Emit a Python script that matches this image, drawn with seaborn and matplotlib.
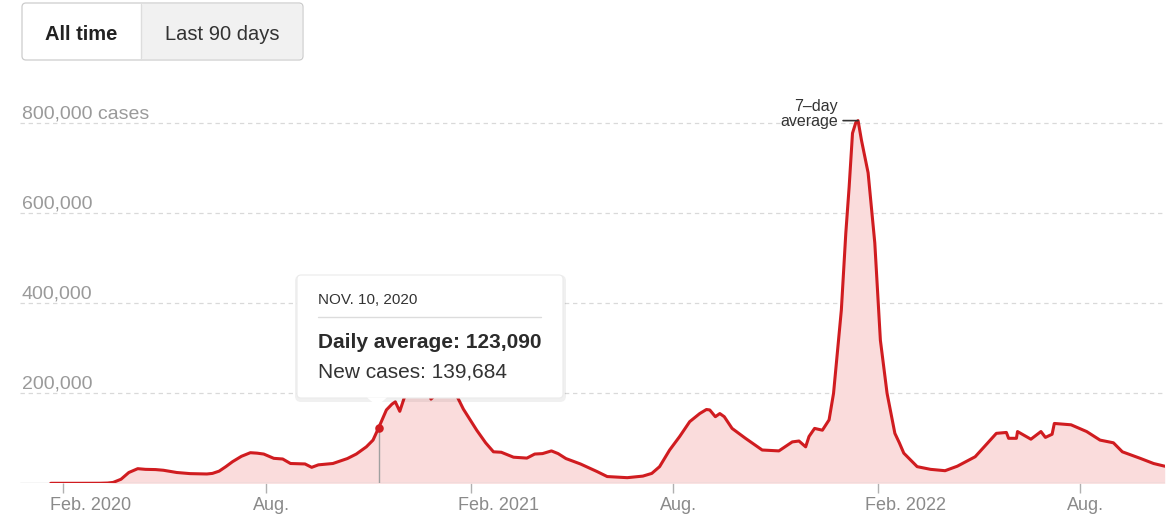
import pandas as pd
import matplotlib
matplotlib.use("Agg")
import matplotlib.pyplot as plt
import matplotlib.transforms as mtransforms
from matplotlib.patches import FancyBboxPatch, Polygon
from matplotlib.lines import Line2D
import seaborn as sns

# Data: 7-day average of new cases
dates = [
    "2020-01-21", "2020-02-15", "2020-03-05", "2020-03-12", "2020-03-17", "2020-03-24",
    "2020-03-31", "2020-04-08", "2020-04-15", "2020-04-24", "2020-05-01", "2020-05-13",
    "2020-05-25", "2020-06-09", "2020-06-14", "2020-06-20", "2020-06-26", "2020-07-02",
    "2020-07-10", "2020-07-18", "2020-07-24", "2020-07-30", "2020-08-08", "2020-08-16",
    "2020-08-23", "2020-09-05", "2020-09-11", "2020-09-17", "2020-09-30", "2020-10-13",
    "2020-10-21", "2020-10-30", "2020-11-05", "2020-11-10", "2020-11-17", "2020-11-22",
    "2020-11-25", "2020-11-29", "2020-12-03", "2020-12-10", "2020-12-17", "2020-12-23",
    "2020-12-27", "2021-01-01", "2021-01-08", "2021-01-12", "2021-01-16", "2021-01-20",
    "2021-01-25", "2021-02-06", "2021-02-14", "2021-02-21", "2021-02-28", "2021-03-11",
    "2021-03-23", "2021-03-30", "2021-04-06", "2021-04-14", "2021-04-20", "2021-04-27",
    "2021-05-10", "2021-05-25", "2021-06-03", "2021-06-21", "2021-07-05", "2021-07-13",
    "2021-07-20", "2021-07-29", "2021-08-07", "2021-08-16", "2021-08-25", "2021-08-31",
    "2021-09-03", "2021-09-08", "2021-09-12", "2021-09-16", "2021-09-23", "2021-10-05",
    "2021-10-20", "2021-11-04", "2021-11-16", "2021-11-22", "2021-11-28", "2021-12-01",
    "2021-12-06", "2021-12-13", "2021-12-19", "2021-12-23", "2021-12-30", "2022-01-03",
    "2022-01-06", "2022-01-09", "2022-01-12", "2022-01-14", "2022-01-17", "2022-01-23",
    "2022-01-29", "2022-02-03", "2022-02-09", "2022-02-16", "2022-02-20", "2022-02-24",
    "2022-03-02", "2022-03-08", "2022-03-20", "2022-04-02", "2022-04-13", "2022-04-29",
    "2022-05-10", "2022-05-18", "2022-05-27", "2022-05-29", "2022-06-05", "2022-06-06",
    "2022-06-18", "2022-06-27", "2022-07-01", "2022-07-07", "2022-07-09", "2022-07-24",
    "2022-08-07", "2022-08-19", "2022-08-31", "2022-09-08", "2022-09-24", "2022-10-06",
    "2022-10-16",
]
avg_cases = [
    0, 0, 100, 600, 2000, 9000,
    24000, 32500, 31000, 30500, 29000, 24000,
    21500, 20700, 22000, 27000, 37000, 48000,
    60000, 68000, 67000, 65000, 55500, 54000,
    44000, 43000, 35500, 41000, 44000, 55000,
    65000, 81000, 96000, 123090, 163000, 176000,
    181000, 160000, 190000, 215000, 240000, 220000,
    187000, 200000, 250000, 251000, 225000, 190000,
    165000, 118000, 90000, 70000, 69000, 58000,
    56000, 65000, 66000, 72000, 66000, 55000,
    43000, 26000, 15000, 12500, 16000, 22000,
    37000, 74000, 104000, 137000, 155000, 164000,
    163000, 148000, 155000, 148000, 122000, 100000,
    74000, 72000, 92000, 94000, 81000, 104000,
    122000, 118000, 141000, 200000, 385000, 556000,
    659000, 778000, 802000, 806000, 763000, 690000,
    534000, 318000, 200000, 111000, 90000, 67000,
    52000, 37000, 31000, 28000, 38000, 59000,
    89000, 111000, 113000, 100000, 100000, 115000,
    98000, 115000, 102000, 109000, 133000, 130000,
    115000, 96000, 90000, 70000, 55500, 44000,
    38000,
]

tick_dates = ["2020-02-01", "2020-08-01", "2021-02-01", "2021-08-01", "2022-02-01", "2022-08-01"]
tick_labels = ["Feb. 2020", "Aug.", "Feb. 2021", "Aug.", "Feb. 2022", "Aug."]
y_ticks = [200000, 400000, 600000, 800000]
y_labels = ["200,000", "400,000", "600,000", "800,000 cases"]

hover_date = "2020-11-10"
hover_label = "NOV. 10, 2020"
hover_avg = 123090
hover_new = 139684

buttons = ["All time", "Last 90 days"]

RED = "#d01c20"
PINK = "#fadcdc"
W, H = 1173, 516

sns.set_style("white")
plt.rcParams["font.family"] = ["Liberation Sans", "DejaVu Sans"]

df = pd.DataFrame({"date": pd.to_datetime(dates), "cases": avg_cases})

fig = plt.figure(figsize=(W / 100, H / 100), dpi=100)
ax = fig.add_axes([20 / W, (H - 483.3) / H, 1145 / W, 373.3 / H])

# area + line
ax.fill_between(df["date"], df["cases"], color=PINK, lw=0, zorder=1)
sns.lineplot(data=df, x="date", y="cases", color=RED, linewidth=2.2, ax=ax, zorder=3,
             solid_joinstyle="round", solid_capstyle="round")

ax.set_xlim(pd.Timestamp("2019-12-24 10:00"), pd.Timestamp("2022-10-16 06:00"))
ax.set_ylim(0, 829600)
sns.despine(ax=ax, left=True, bottom=True)
ax.set_xlabel("")
ax.set_ylabel("")
ax.set_yticks([])

# grid lines and y labels
ax.axhline(0, color="#d4d4d4", lw=1, zorder=2)
lbl_tr = mtransforms.offset_copy(
    mtransforms.blended_transform_factory(ax.transAxes, ax.transData), fig=fig, x=2, y=5, units="dots")
for v, lab in zip(y_ticks, y_labels):
    ax.axhline(v, color="#d9d9d9", lw=0.9, ls=(0, (3.5, 3)), zorder=0)
    ax.text(0, v, lab, transform=lbl_tr, fontsize=14, color="#9a9a9a", ha="left", va="baseline")

# x ticks
ax.set_xticks(pd.to_datetime(tick_dates))
ax.set_xticklabels(tick_labels, fontsize=13, color="#8a8a8a", ha="left")
ax.tick_params(axis="x", bottom=True, length=7, width=1, color="#b0b0b0", pad=3)
for lab in ax.get_xticklabels():
    lab.set_transform(lab.get_transform() + mtransforms.ScaledTranslation(-13 / 100, 0, fig.dpi_scale_trans))

# hovered day
hd = pd.Timestamp(hover_date)
ax.vlines(hd, 0, hover_avg, color="#a0a0a0", lw=1, zorder=2)
ax.scatter([hd], [hover_avg], s=38, color=RED, zorder=4, lw=0)

# 7-day average label at the peak
peak = df.loc[df["cases"].idxmax()]
ax.annotate("", xy=(peak["date"], peak["cases"]), xytext=(-15, 0), textcoords="offset pixels",
            arrowprops=dict(arrowstyle="-", color="#333333", lw=1.2, shrinkA=0, shrinkB=0))
ax.annotate("average", xy=(peak["date"], peak["cases"]), xytext=(-20, -5), textcoords="offset pixels",
            ha="right", va="baseline", fontsize=11.5, color="#333333")
ax.annotate("7\u2013day", xy=(peak["date"], peak["cases"]), xytext=(-20, 10), textcoords="offset pixels",
            ha="right", va="baseline", fontsize=11.5, color="#333333")

ident = mtransforms.IdentityTransform()


def px_box(x0, y0, x1, y1, face, edge="none", r=4, lw=1.0, z=5, alpha=1.0):
    p = FancyBboxPatch((x0, H - y1), x1 - x0, y1 - y0,
                       boxstyle=f"round,pad=0,rounding_size={r}", transform=ident,
                       facecolor=face, edgecolor=edge, lw=lw, zorder=z, alpha=alpha)
    fig.add_artist(p)


def px_text(x, y, s, **kw):
    fig.text(x / W, 1 - y / H, s, **kw)


# tooltip
px_box(295, 275, 566, 402, "#000000", r=6, z=5, alpha=0.06)
px_box(297, 275, 563, 398, "white", edge="#ebebeb", r=4, lw=0.8, z=6)
fig.add_artist(Polygon([(367, H - 397.5), (387, H - 397.5), (377, H - 406)], closed=True,
                       transform=ident, facecolor="white", edgecolor="none", zorder=7))
fig.add_artist(Line2D([318 / W, 541 / W], [1 - 317 / H, 1 - 317 / H], transform=fig.transFigure,
                      color="#dcdcdc", lw=1, zorder=7))
px_text(318, 304, hover_label, fontsize=11, color="#333333", va="baseline", zorder=8)
px_text(318, 348, f"Daily average: {hover_avg:,}", fontsize=15, fontweight="bold",
        color="#2b2b2b", va="baseline", zorder=8)
px_text(318, 378, f"New cases: {hover_new:,}", fontsize=15, color="#333333", va="baseline", zorder=8)

# range buttons
px_box(22, 3, 303, 60, "white", edge="#cccccc", r=4, lw=0.9, z=5)
px_box(141, 4, 302, 59, "#f1f1f1", r=3, z=6)
fig.add_artist(Line2D([141 / W, 141 / W], [1 - 4 / H, 1 - 59 / H], transform=fig.transFigure,
                      color="#dddddd", lw=1, zorder=7))
px_text(81.5, 40.5, buttons[0], fontsize=14.5, fontweight="bold", color="#222222",
        ha="center", va="baseline", zorder=8)
px_text(222, 40.5, buttons[1], fontsize=14.5, color="#333333", ha="center", va="baseline", zorder=8)

fig.savefig("out.png", dpi=100)
